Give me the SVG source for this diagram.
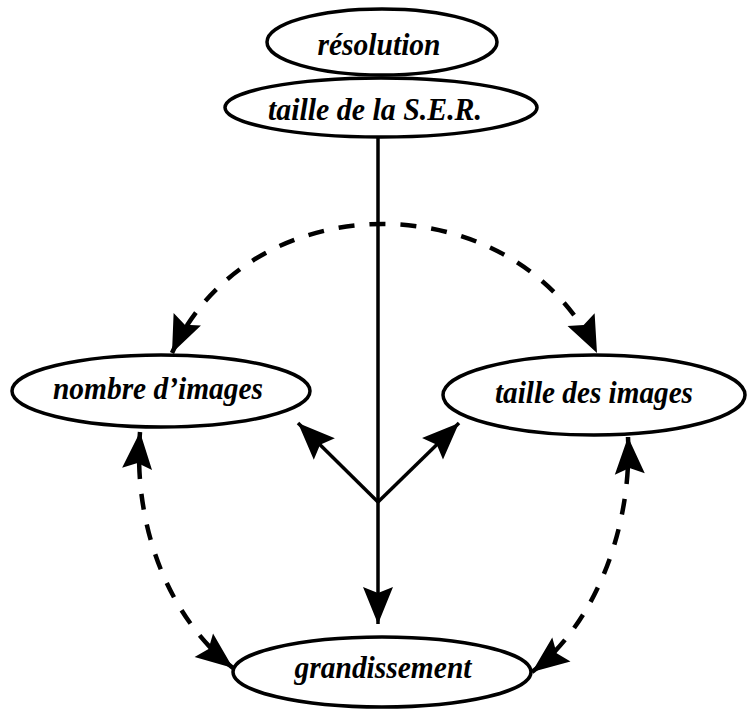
<svg xmlns="http://www.w3.org/2000/svg" width="747" height="709" viewBox="0 0 747 709">
<defs>
<style>
.node ellipse { fill: #fff; stroke: #000; stroke-width: 3.5; }
.node text { font-family: "Liberation Serif", "Times New Roman", serif; font-weight: bold; font-style: italic; font-size: 31px; fill: #000; text-anchor: middle; }
.solid { fill: none; stroke: #000; stroke-width: 3.5; }
.dashed { fill: none; stroke: #000; stroke-width: 4.5; stroke-dasharray: 16 15; }
</style>
<marker id="arrow" markerUnits="userSpaceOnUse" markerWidth="40" markerHeight="34" viewBox="-39 -17 40 34" refX="0" refY="0" orient="auto-start-reverse">
<path d="M0,0 L-37,-15 L-31,0 L-37,15 Z" fill="#000"/>
</marker>
</defs>
<rect width="747" height="709" fill="#fff"/>
<g id="connectors">
<path class="solid" d="M378,137 L378,624" marker-end="url(#arrow)"/>
<path class="solid" d="M378,502 L298,423" marker-end="url(#arrow)"/>
<path class="solid" d="M378,502 L459,423" marker-end="url(#arrow)"/>
<path class="dashed" d="M172,353 C250,181 515,181 597,353" marker-start="url(#arrow)" marker-end="url(#arrow)"/>
<path class="dashed" d="M140,432 C133,520 165,615 233,668" marker-start="url(#arrow)" marker-end="url(#arrow)"/>
<path class="dashed" d="M628,437 C632,520 600,620 532,672" marker-start="url(#arrow)" marker-end="url(#arrow)"/>
</g>
<g id="resolution" class="node">
<ellipse cx="382" cy="42" rx="115" ry="33"/>
<text x="379" y="55" textLength="123" lengthAdjust="spacingAndGlyphs">résolution</text>
</g>
<g id="taille-ser" class="node">
<ellipse cx="381" cy="107.5" rx="156" ry="29.5"/>
<text x="375" y="120" textLength="214" lengthAdjust="spacingAndGlyphs">taille de la S.E.R.</text>
</g>
<g id="nombre-images" class="node">
<ellipse cx="161" cy="391" rx="149" ry="36"/>
<text x="158" y="399" textLength="210" lengthAdjust="spacingAndGlyphs">nombre d’images</text>
</g>
<g id="taille-images" class="node">
<ellipse cx="594" cy="395" rx="151" ry="40"/>
<text x="594" y="403" textLength="198" lengthAdjust="spacingAndGlyphs">taille des images</text>
</g>
<g id="grandissement" class="node">
<ellipse cx="382" cy="672" rx="149" ry="35"/>
<text x="383" y="678" textLength="177" lengthAdjust="spacingAndGlyphs">grandissement</text>
</g>
</svg>
